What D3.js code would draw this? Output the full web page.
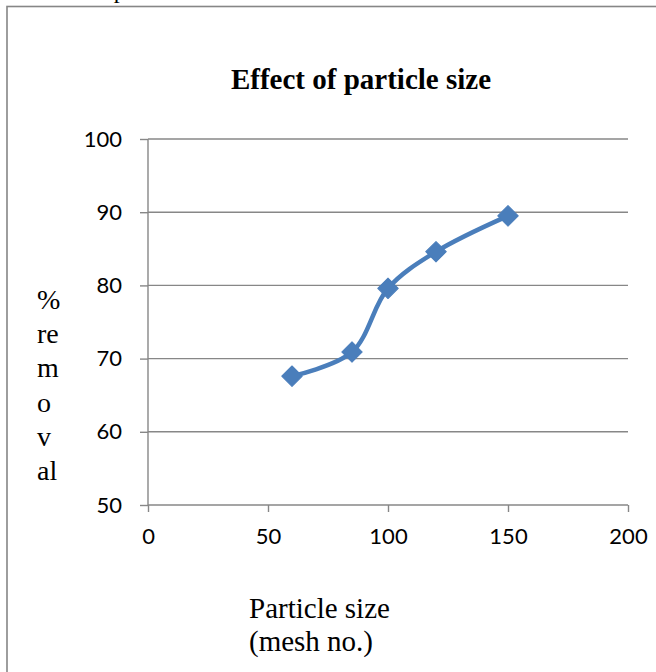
<!DOCTYPE html>
<html>
<head>
<meta charset="utf-8">
<script src="https://cdn.jsdelivr.net/npm/d3@7/dist/d3.min.js"></script>
<style>
  html, body { margin: 0; padding: 0; background: #fff; }
  svg { display: block; }
</style>
</head>
<body>
<script>
// ---- data ----
const meshSizes = [60, 85, 100, 120, 150];
const removalPct = [67.6, 70.9, 79.6, 84.6, 89.5];
const xTicks = [0, 50, 100, 150, 200];
const yTicks = [50, 60, 70, 80, 90, 100];
const chartTitle = "Effect of particle size";
const xTitleLines = ["Particle size", "(mesh no.)"];
const yTitleLines = ["%", "re", "m", "o", "v", "al"];
const topCutText = "ased on particle diameter.";

const W = 656, H = 672;
const svg = d3.select("body").append("svg").attr("width", W).attr("height", H);

// cut-off text line from the page above the chart
svg.append("text")
  .attr("x", 35).attr("y", -2)
  .attr("font-family", "Liberation Serif, Times New Roman, serif")
  .attr("font-size", 24).attr("fill", "#000")
  .text(topCutText);

// chart frame (extends beyond the visible area on right and bottom)
svg.append("rect")
  .attr("x", 7).attr("y", 6.5).attr("width", W + 20).attr("height", H + 20)
  .attr("fill", "#fff").attr("stroke", "#868686").attr("stroke-width", 1.6);

const plot = { left: 148, right: 628, top: 139, bottom: 505 };
const x = d3.scaleLinear().domain([0, 200]).range([plot.left, plot.right]);
const y = d3.scaleLinear().domain([50, 100]).range([plot.bottom, plot.top]);

const gridColor = "#878787";
const tickFont = "Lato, Carlito, Calibri, sans-serif";

// horizontal gridlines
svg.append("g").selectAll("line").data(yTicks.filter(d => d !== 50)).join("line")
  .attr("x1", plot.left).attr("x2", plot.right)
  .attr("y1", d => y(d)).attr("y2", d => y(d))
  .attr("stroke", gridColor).attr("stroke-width", 1.4);

// y axis
const yAxis = svg.append("g").attr("transform", `translate(${plot.left},0)`)
  .call(d3.axisLeft(y).tickValues(yTicks).tickSize(8).tickPadding(18));
// x axis
const xAxis = svg.append("g").attr("transform", `translate(0,${plot.bottom})`)
  .call(d3.axisBottom(x).tickValues(xTicks).tickSize(7).tickPadding(16));

[yAxis, xAxis].forEach(g => {
  g.select(".domain").attr("stroke", gridColor).attr("stroke-width", 1.4);
  g.selectAll(".tick line").attr("stroke", gridColor).attr("stroke-width", 1.4);
  g.selectAll(".tick text").attr("font-family", tickFont).attr("font-size", 22).attr("fill", "#000");
});
xAxis.select(".domain").attr("d", `M${plot.left},0H${plot.right}`);
yAxis.select(".domain").attr("d", `M0,${plot.top}V${plot.bottom}`);

// title
svg.append("text")
  .attr("x", 361).attr("y", 89)
  .attr("text-anchor", "middle")
  .attr("font-family", "Liberation Serif, Times New Roman, serif")
  .attr("font-weight", "bold").attr("font-size", 29).attr("fill", "#000")
  .text(chartTitle);

// y title stacked
svg.append("g").selectAll("text").data(yTitleLines).join("text")
  .attr("x", 37).attr("y", (d, i) => 309 + i * 34.2)
  .attr("font-family", "Liberation Serif, Times New Roman, serif")
  .attr("font-size", 28).attr("fill", "#000")
  .text(d => d);

// x title
svg.append("g").selectAll("text").data(xTitleLines).join("text")
  .attr("x", 249).attr("y", (d, i) => 618 + i * 33)
  .attr("font-family", "Liberation Serif, Times New Roman, serif")
  .attr("font-size", 29).attr("fill", "#000")
  .text(d => d);

// series
const pts = meshSizes.map((m, i) => [m, removalPct[i]]);
const lineColor = "#4a7ebb";
svg.append("path")
  .datum(pts)
  .attr("fill", "none").attr("stroke", lineColor).attr("stroke-width", 4.5)
  .attr("stroke-linejoin", "round").attr("stroke-linecap", "round")
  .attr("d", d3.line().x(d => x(d[0])).y(d => y(d[1])).curve(d3.curveCatmullRom.alpha(0.5)));

svg.append("g").selectAll("path").data(pts).join("path")
  .attr("transform", d => `translate(${x(d[0])},${y(d[1])}) rotate(45)`)
  .attr("d", d3.symbol().type(d3.symbolSquare).size(210))
  .attr("fill", lineColor).attr("stroke", lineColor).attr("stroke-width", 1)
  .attr("stroke-linejoin", "round");
</script>
</body>
</html>
